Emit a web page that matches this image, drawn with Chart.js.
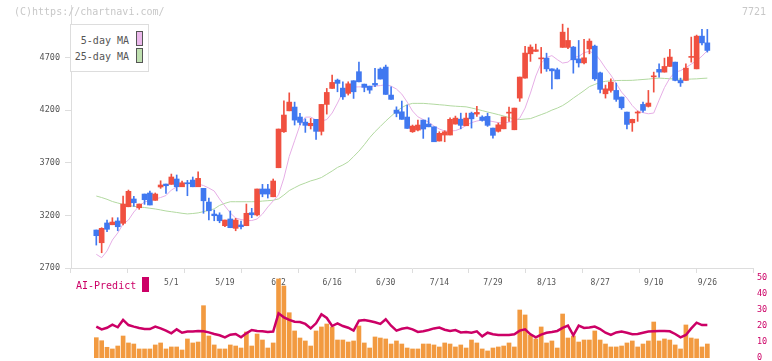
<!DOCTYPE html>
<html>
<head>
<meta charset="utf-8">
<script src="https://cdn.jsdelivr.net/npm/chart.js@4.4.1/dist/chart.umd.min.js"></script>
<style>
    body { margin: 0; width: 772px; height: 361px; background: #fff; position: relative; overflow: hidden; font-family: "DejaVu Sans Mono", monospace; }
    #graficoPrincipal { position: absolute; left: 0; top: 0; }
    #graficoInferior { position: absolute; left: 0; top: 268px; }
    .marca { position: absolute; top: 6px; font-size: 10px; line-height: 12px; color: #c8c8c8; }
    #leyendaMedias { position: absolute; left: 70px; top: 24px; width: 77px; height: 46px; border: 1px solid #ddd; background: #fff; }
    .texto { position: absolute; right: 19px; font-size: 10px; line-height: 12px; color: #555; white-space: pre; }
    .caja { position: absolute; left: 65px; width: 5px; height: 13px; border: 1px solid #555; }
    #leyendaIA { position: absolute; left: 76px; top: 280px; font-size: 10px; line-height: 12px; color: #cc0066; }
    #cajaIA { position: absolute; left: 142px; top: 277px; width: 7px; height: 15px; background: #cc0066; }
</style>
</head>
<body>
<canvas id="graficoPrincipal" width="772" height="295"></canvas>
<canvas id="graficoInferior" width="772" height="93"></canvas>
<div class="marca" style="left:14px">(C)https://chartnavi.com/</div>
<div class="marca" style="right:6px">7721</div>
<div id="leyendaMedias">
    <span class="texto" style="top:10px">5-day MA</span><span class="caja" style="top:6px;background:#ebb8eb"></span>
    <span class="texto" style="top:26px">25-day MA</span><span class="caja" style="top:23px;background:#bfe0b0"></span>
</div>
<div id="leyendaIA">AI-Predict</div>
<div id="cajaIA"></div>
<script>
// Etiquetas del eje X (una cada 10 sesiones) y su posición en la serie
const etiquetasFecha = ['5/1', '5/19', '6/2', '6/16', '6/30', '7/14', '7/29', '8/13', '8/27', '9/10', '9/26'];
const indicesFecha = [14, 24, 34, 44, 54, 64, 74, 84, 94, 104, 114];
const ticksPrecio = [2700, 3200, 3700, 4200, 4700];

// Velas diarias (4/10 - 9/26)
const apertura = [3061, 2940, 3128, 3111, 3147, 3125, 3282, 3356, 3273, 3403,
    3413, 3343, 3470, 3498, 3495, 3546, 3472, 3508, 3536, 3472,
    3457, 3327, 3213, 3204, 3102, 3166, 3077, 3109, 3102, 3225,
    3204, 3451, 3451, 3377, 3653, 3995, 4194, 4230, 4135, 4087,
    4052, 4113, 3999, 4255, 4407, 4486, 4410, 4360, 4480, 4566,
    4448, 4429, 4455, 4591, 4610, 4344, 4201, 4185, 4135, 3995,
    4011, 4106, 4068, 4042, 3907, 3964, 3964, 4068, 4115, 4052,
    4172, 4163, 4135, 4141, 4030, 3999, 4023, 4172, 4014, 4315,
    4505, 4736, 4759, 4688, 4695, 4593, 4584, 4797, 4797, 4800,
    4688, 4650, 4783, 4809, 4555, 4356, 4388, 4388, 4325, 4182,
    4080, 4173, 4255, 4236, 4517, 4588, 4562, 4616, 4657, 4483,
    4483, 4702, 4593, 4904, 4840];
const maximo = [3061, 3083, 3156, 3178, 3178, 3384, 3441, 3381, 3308, 3403,
    3432, 3413, 3529, 3498, 3593, 3584, 3527, 3533, 3565, 3615,
    3457, 3365, 3251, 3225, 3156, 3242, 3172, 3147, 3308, 3267,
    3451, 3495, 3495, 3546, 4021, 4289, 4365, 4277, 4170, 4118,
    4122, 4113, 4255, 4407, 4534, 4496, 4470, 4470, 4480, 4658,
    4448, 4429, 4597, 4603, 4629, 4423, 4232, 4287, 4249, 4059,
    4106, 4106, 4128, 4042, 3995, 4005, 4128, 4144, 4172, 4172,
    4182, 4236, 4147, 4172, 4030, 4078, 4135, 4230, 4220, 4515,
    4806, 4821, 4828, 4797, 4742, 4593, 4600, 5018, 4980, 4806,
    4863, 4873, 4878, 4819, 4562, 4439, 4498, 4458, 4325, 4182,
    4115, 4192, 4277, 4388, 4562, 4641, 4695, 4778, 4657, 4505,
    4641, 4895, 4914, 4968, 4968];
const minimo = [2918, 2845, 3045, 3111, 3054, 3109, 3282, 3286, 3258, 3305,
    3299, 3343, 3457, 3410, 3495, 3432, 3472, 3387, 3472, 3472,
    3220, 3156, 3149, 3130, 3092, 3083, 3054, 3071, 3102, 3178,
    3194, 3377, 3365, 3377, 3653, 3989, 4194, 4059, 4059, 3989,
    4021, 3923, 3964, 4163, 4407, 4375, 4303, 4344, 4312, 4470,
    4375, 4360, 4423, 4496, 4350, 4303, 4137, 4113, 4027, 3989,
    4002, 3932, 4042, 3900, 3907, 3900, 3964, 4068, 4023, 4052,
    4030, 4141, 4096, 4046, 3935, 3992, 4023, 4094, 4014, 4284,
    4505, 4664, 4759, 4552, 4569, 4403, 4498, 4797, 4785, 4552,
    4610, 4641, 4736, 4483, 4365, 4315, 4372, 4284, 4208, 4023,
    3999, 4094, 4182, 4230, 4372, 4515, 4562, 4616, 4479, 4426,
    4483, 4657, 4593, 4821, 4752];
const cierre = [3007, 3077, 3068, 3137, 3092, 3308, 3429, 3320, 3308, 3349,
    3299, 3403, 3489, 3482, 3565, 3472, 3510, 3501, 3472, 3552,
    3339, 3244, 3197, 3149, 3156, 3083, 3156, 3092, 3220, 3206,
    3451, 3403, 3403, 3527, 4021, 4154, 4277, 4106, 4084, 4056,
    4075, 3999, 4255, 4369, 4464, 4455, 4327, 4451, 4375, 4470,
    4417, 4391, 4439, 4496, 4350, 4303, 4170, 4113, 4027, 4049,
    4059, 4021, 4042, 3900, 3980, 3995, 4113, 4125, 4056, 4125,
    4118, 4179, 4103, 4056, 3961, 4061, 4135, 4179, 4220, 4515,
    4743, 4800, 4774, 4695, 4593, 4574, 4498, 4942, 4863, 4679,
    4650, 4698, 4857, 4498, 4398, 4403, 4467, 4303, 4223, 4065,
    4113, 4179, 4198, 4268, 4524, 4562, 4616, 4705, 4483, 4460,
    4600, 4707, 4904, 4840, 4768];

// Medias móviles
const media5 = [2830, 2798, 2862, 2966, 3033, 3118, 3156, 3232, 3289, 3327,
    3341, 3356, 3370, 3389, 3441, 3470, 3498, 3503, 3505, 3498,
    3484, 3460, 3432, 3356, 3289, 3223, 3175, 3161, 3151, 3151,
    3166, 3213, 3280, 3337, 3396, 3555, 3761, 3910, 4058, 4134,
    4135, 4106, 4097, 4111, 4173, 4268, 4372, 4410, 4420, 4422,
    4422, 4424, 4429, 4434, 4443, 4429, 4401, 4353, 4277, 4192,
    4137, 4111, 4087, 4049, 4021, 4002, 4002, 4006, 4025, 4054,
    4082, 4097, 4108, 4101, 4092, 4082, 4078, 4087, 4094, 4125,
    4220, 4363, 4525, 4647, 4701, 4719, 4681, 4648, 4657, 4702,
    4711, 4747, 4759, 4738, 4676, 4600, 4534, 4453, 4372, 4315,
    4244, 4192, 4177, 4166, 4173, 4296, 4415, 4505, 4562, 4576,
    4605, 4638, 4671, 4714, 4766];
const media25 = [3384, 3370, 3353, 3332, 3318, 3305, 3295, 3286, 3280, 3275,
    3268, 3261, 3252, 3242, 3235, 3228, 3220, 3214, 3218, 3224,
    3236, 3248, 3262, 3295, 3315, 3330, 3330, 3330, 3330, 3330,
    3331, 3336, 3340, 3344, 3357, 3394, 3436, 3463, 3489, 3508,
    3528, 3542, 3560, 3591, 3622, 3656, 3679, 3709, 3759, 3811,
    3872, 3939, 3996, 4046, 4097, 4143, 4188, 4226, 4251, 4265,
    4265, 4265, 4261, 4257, 4252, 4248, 4242, 4238, 4235, 4232,
    4221, 4209, 4196, 4183, 4171, 4158, 4145, 4130, 4116, 4111,
    4116, 4120, 4139, 4158, 4177, 4201, 4220, 4244, 4277, 4315,
    4350, 4386, 4424, 4445, 4464, 4475, 4479, 4482, 4483, 4483,
    4484, 4488, 4492, 4496, 4501, 4505, 4502, 4499, 4497, 4494,
    4494, 4496, 4498, 4502, 4505];

// Panel inferior: volumen (escala relativa) y predicción IA (0-50)
const volumen = [25.4, 21.6, 13.4, 11.3, 15, 27.5, 18.8, 17.5, 11.3, 11.3,
    11.3, 16.3, 18.8, 11.3, 13.8, 13.8, 10, 23.8, 18.8, 20,
    65.4, 27.5, 16.3, 11.3, 11.3, 16.3, 15, 12.5, 32.5, 15,
    30, 22.5, 12.5, 18.8, 98.8, 90, 56.6, 33.8, 25, 21.3,
    15, 33.8, 38.8, 42.5, 38.8, 22.5, 22.5, 20, 21.3, 40,
    18.8, 12.5, 26.3, 25, 23.8, 17.5, 21.3, 17.5, 12.5, 11.3,
    11.3, 17.5, 17.5, 16.3, 13.8, 18.8, 17.5, 13.8, 16.3, 12.5,
    22.5, 18.8, 11.3, 8.8, 12.5, 13.8, 15, 18.8, 13.8, 60,
    53.8, 28.8, 23.8, 38.8, 18.8, 21.3, 12.5, 55, 25, 27.5,
    20, 22.5, 22.5, 33.8, 22.5, 17.5, 13.8, 13.8, 15, 18.8,
    21.3, 13.8, 17.5, 21.3, 45, 21.3, 23.8, 22.5, 16.3, 11.3,
    41.3, 25, 23.8, 13.8, 17.5];
const prediccionIA = [19.6, 17.9, 18.9, 20.8, 19.2, 23.8, 20.6, 19.6, 18.8, 18.1,
    18.1, 19.6, 18.5, 17.1, 15.4, 17.9, 15.8, 16.5, 16.5, 16.9,
    16.7, 16.0, 15.0, 14.2, 12.9, 14.6, 15.0, 12.9, 15.4, 17.5,
    16.9, 16.7, 16.3, 16.5, 27.9, 25.4, 23.8, 22.7, 22.5, 21.3,
    18.5, 21.7, 27.3, 25.0, 20.0, 21.7, 20.0, 18.9, 17.1, 23.3,
    23.8, 23.1, 22.3, 21.3, 24.2, 20.2, 17.1, 18.3, 18.9, 17.9,
    16.3, 16.7, 17.5, 18.5, 19.0, 17.7, 16.9, 17.5, 16.0, 16.3,
    15.8, 16.7, 13.5, 15.8, 14.8, 14.4, 14.4, 14.4, 14.8, 17.1,
    17.9, 14.8, 12.9, 14.6, 15.8, 16.3, 16.9, 18.8, 20.2, 14.2,
    20.2, 18.8, 19.0, 19.6, 18.1, 15.8, 14.4, 16.0, 16.5, 15.8,
    14.8, 15.0, 15.8, 16.5, 16.7, 16.9, 16.9, 16.7, 15.0, 12.9,
    14.4, 18.5, 22.1, 20.6, 20.6];

const FUENTE = '"DejaVu Sans Mono", monospace';
const COLOR_SUBE = '#f05040';
const COLOR_BAJA = '#4078f0';
// Rango del eje X compartido por los dos paneles (deja hueco a la derecha)
const X_MIN = -4.72;
const X_MAX = 122.52;

function aPuntos(valores) {
    return valores.map((v, i) => ({ x: i, y: v }));
}

// Quita el margen extra que Chart.js reserva para media etiqueta arriba y abajo
function sinRellenoVertical(eje, ancho) {
    eje.width = ancho;
    eje.paddingTop = 0;
    eje.paddingBottom = 0;
}

// Gráfico de velas con medias móviles
function crearGraficoPrincipal() {
    const colores = cierre.map((c, i) => c >= apertura[i] ? COLOR_SUBE : COLOR_BAJA);
    const cuerpos = cierre.map((c, i) => ({ x: i, y: [Math.min(apertura[i], c), Math.max(apertura[i], c)] }));
    const mechas = maximo.map((h, i) => ({ x: i, y: [minimo[i], h] }));

    new Chart(document.getElementById('graficoPrincipal'), {
        type: 'bar',
        data: {
            datasets: [
                { label: 'cuerpo', data: cuerpos, xAxisID: 'x', backgroundColor: colores, barThickness: 5, minBarLength: 1, grouped: false, order: 1 },
                { label: 'mecha', data: mechas, xAxisID: 'x', backgroundColor: colores, barThickness: 1, minBarLength: 1, grouped: false, order: 2 },
                { type: 'line', label: '5-day MA', data: aPuntos(media5), xAxisID: 'x', borderColor: '#e6aee6', borderWidth: 1, pointRadius: 0, order: 3 },
                { type: 'line', label: '25-day MA', data: aPuntos(media25), xAxisID: 'x', borderColor: '#b2d9a0', borderWidth: 1, pointRadius: 0, order: 4 }
            ]
        },
        options: {
            responsive: false,
            animation: false,
            events: [],
            layout: { padding: { top: 5, right: 19, left: 0, bottom: 0 } },
            plugins: { legend: { display: false }, tooltip: { enabled: false } },
            scales: {
                x: {
                    type: 'linear', min: X_MIN, max: X_MAX, offset: false, weight: 1,
                    afterBuildTicks: (eje) => { eje.ticks = indicesFecha.map(v => ({ value: v })); },
                    afterFit: (eje) => { eje.height = 21; },
                    grid: { display: false, drawTicks: false },
                    border: { display: false },
                    ticks: {
                        autoSkip: false, maxRotation: 0, padding: 4, color: '#555',
                        font: { family: FUENTE, size: 8 },
                        callback: (v) => etiquetasFecha[indicesFecha.indexOf(v)] ?? ''
                    }
                },
                marcas: {
                    axis: 'x', type: 'linear', position: 'bottom', min: 0, max: 11, weight: 0,
                    afterFit: (eje) => { eje.height = 6; },
                    grid: { drawOnChartArea: false, tickLength: 5, color: '#ddd' },
                    border: { color: '#ddd' },
                    ticks: { display: false, stepSize: 1 }
                },
                y: {
                    min: 2700, max: 5200,
                    afterBuildTicks: (eje) => { eje.ticks = ticksPrecio.map(v => ({ value: v })); },
                    afterFit: (eje) => sinRellenoVertical(eje, 71),
                    grid: { drawOnChartArea: false, tickLength: 6, color: '#ddd' },
                    border: { color: '#ddd' },
                    ticks: { padding: 5, color: '#555', font: { family: FUENTE, size: 8.5 }, callback: (v) => String(v) }
                }
            }
        }
    });
}

// Panel inferior con volumen y AI-Predict
function crearGraficoInferior() {
    new Chart(document.getElementById('graficoInferior'), {
        type: 'bar',
        data: {
            datasets: [
                { type: 'line', label: 'AI-Predict', data: aPuntos(prediccionIA), xAxisID: 'x', yAxisID: 'ia', borderColor: '#cc0066', borderWidth: 2.5, pointRadius: 0, order: 1 },
                { label: 'volumen', data: aPuntos(volumen), xAxisID: 'x', yAxisID: 'vol', backgroundColor: '#f29a40', barThickness: 4, order: 2 }
            ]
        },
        options: {
            responsive: false,
            animation: false,
            events: [],
            layout: { padding: { left: 71, right: 0, top: 10, bottom: 3 } },
            plugins: { legend: { display: false }, tooltip: { enabled: false } },
            scales: {
                x: { type: 'linear', min: X_MIN, max: X_MAX, offset: false, display: false },
                vol: { axis: 'y', min: 0, max: 100, display: false },
                ia: {
                    axis: 'y', position: 'right', min: 0, max: 50,
                    afterFit: (eje) => sinRellenoVertical(eje, 19),
                    grid: { display: false, drawTicks: false },
                    border: { display: false },
                    ticks: { stepSize: 10, padding: 4, color: '#cc0066', font: { family: FUENTE, size: 8.5 } }
                }
            }
        }
    });
}

document.addEventListener('DOMContentLoaded', () => {
    crearGraficoPrincipal();
    crearGraficoInferior();
});
</script>
</body>
</html>
